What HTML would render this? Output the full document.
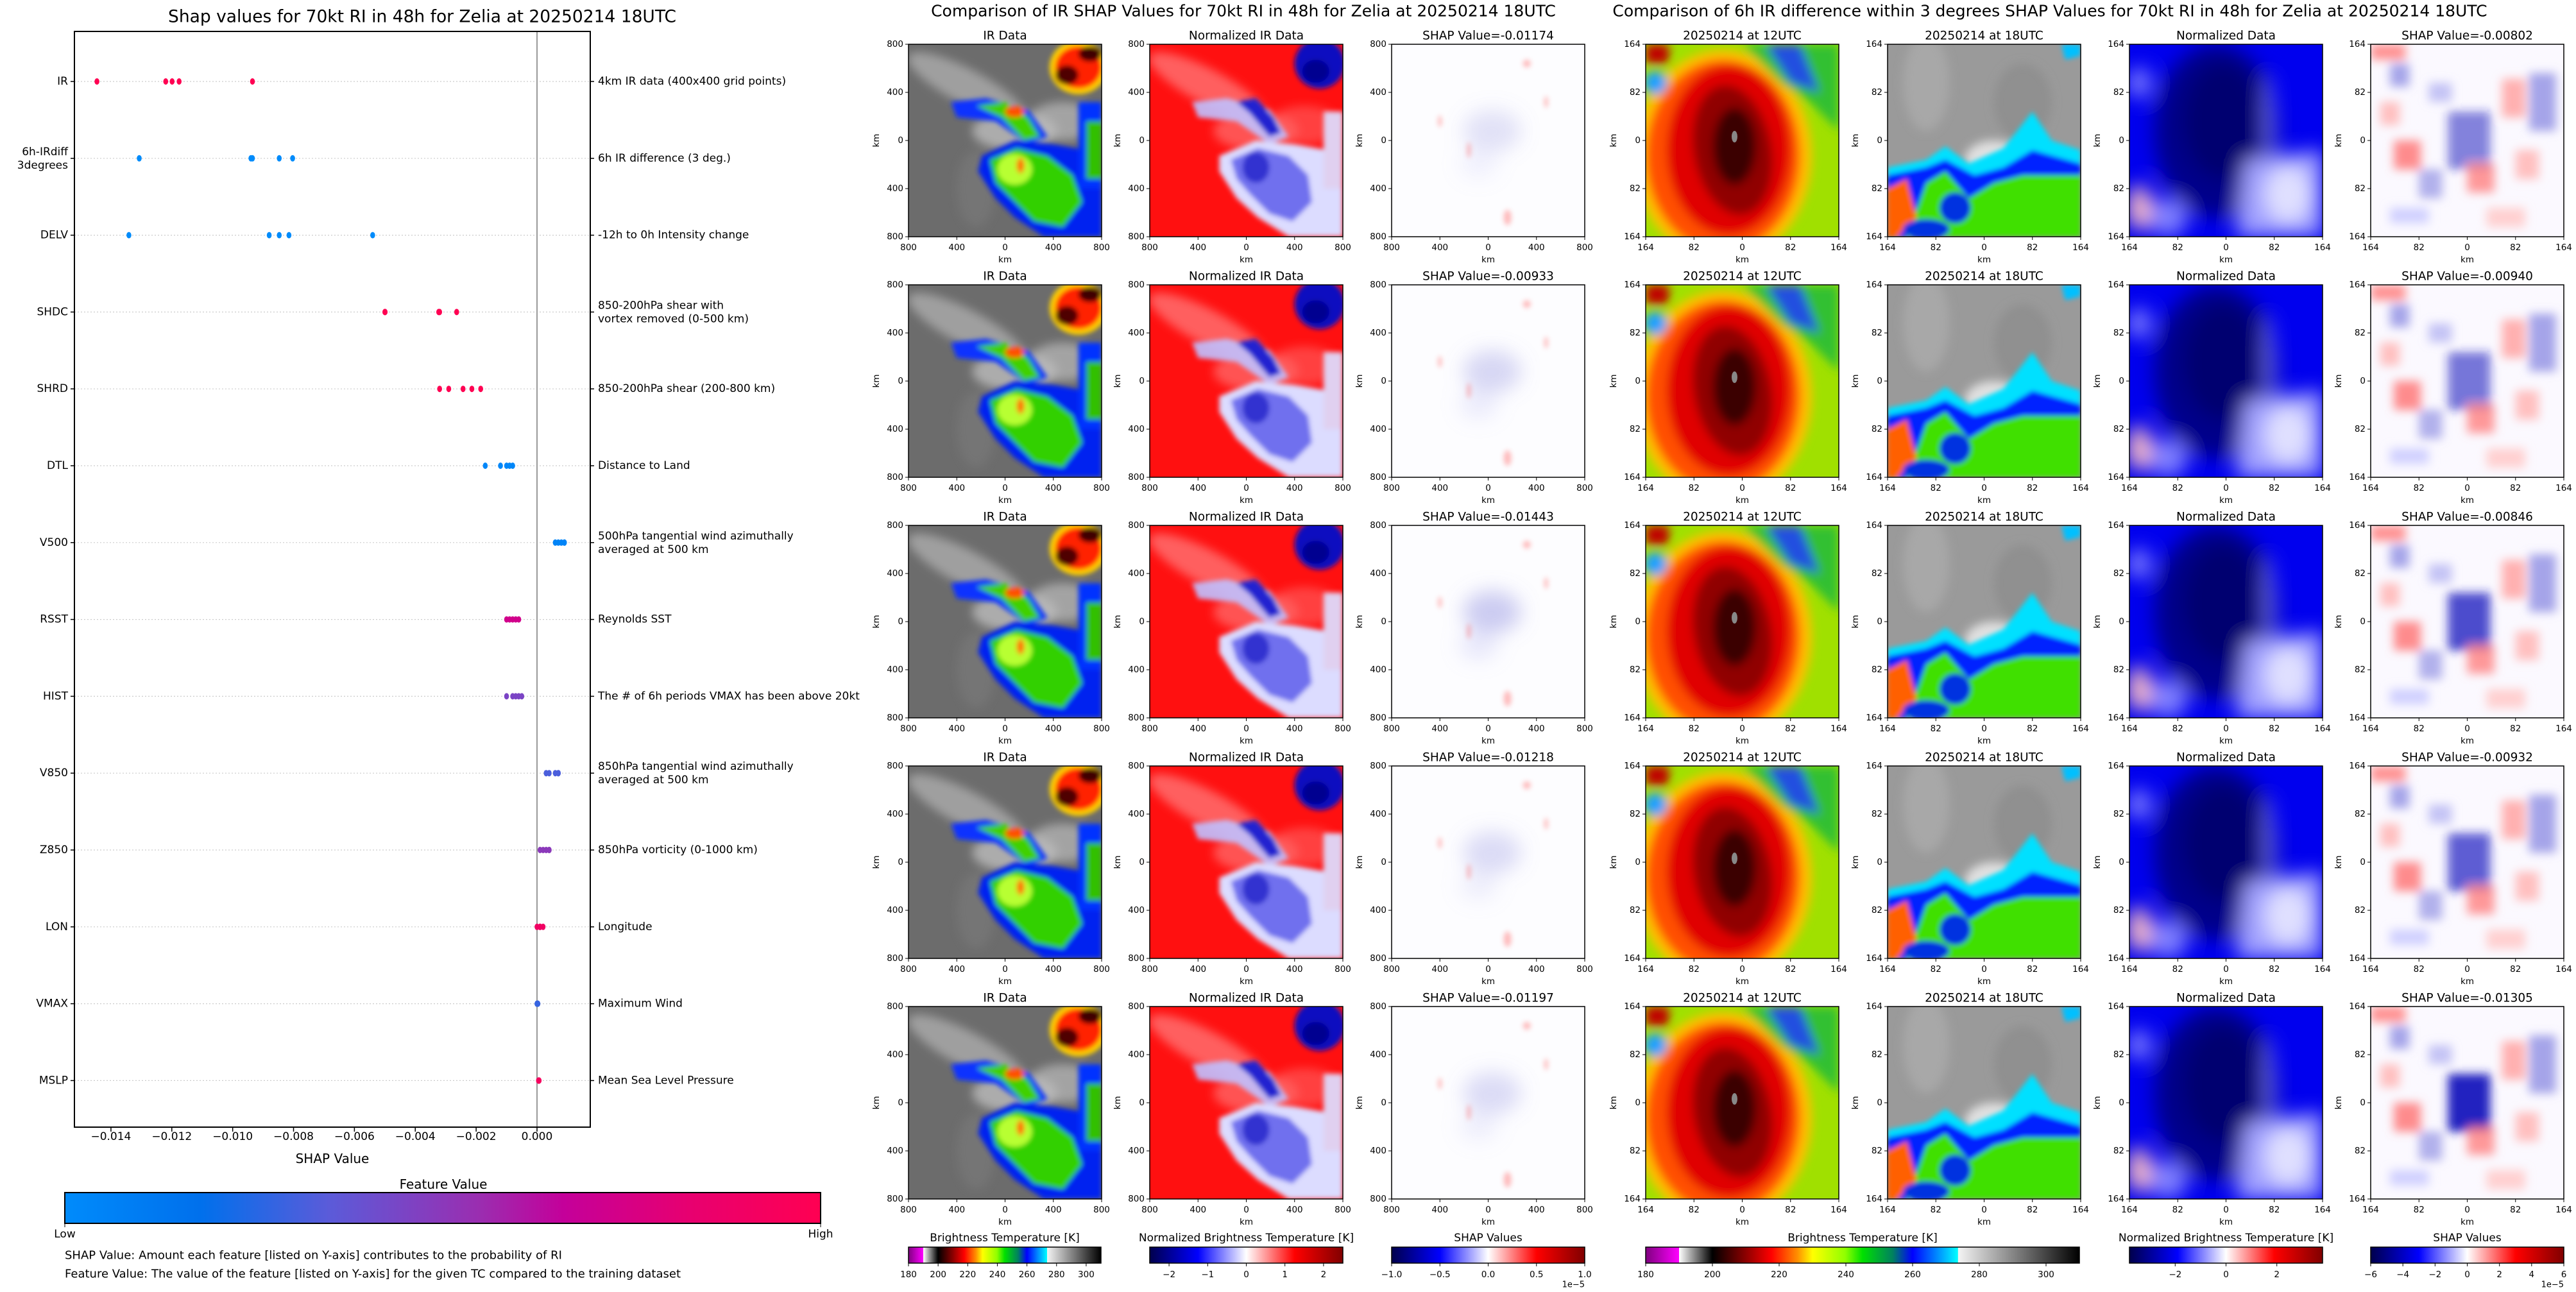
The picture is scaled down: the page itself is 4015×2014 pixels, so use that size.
<!DOCTYPE html>
<html><head><meta charset="utf-8"><style>
html,body{margin:0;padding:0;background:#fff}
svg text{font-family:"DejaVu Sans","Liberation Sans",sans-serif;fill:#000}
</style></head><body>
<svg id="root" xmlns="http://www.w3.org/2000/svg" width="4015" height="2009" viewBox="0 0 4015 2009">
<defs>
<filter id="b1" x="-20%" y="-20%" width="140%" height="140%"><feGaussianBlur stdDeviation="1.2"/></filter>
<filter id="b2" x="-30%" y="-30%" width="160%" height="160%"><feGaussianBlur stdDeviation="2.5"/></filter>
<filter id="b3" x="-30%" y="-30%" width="160%" height="160%"><feGaussianBlur stdDeviation="5"/></filter>
<linearGradient id="gShap" x1="0" x2="1" y1="0" y2="0">
<stop offset="0" stop-color="#008bfb"/><stop offset="0.18" stop-color="#0070ec"/><stop offset="0.35" stop-color="#5b5bd9"/><stop offset="0.55" stop-color="#9b2db0"/><stop offset="0.66" stop-color="#c4009a"/><stop offset="0.83" stop-color="#e8006f"/><stop offset="1" stop-color="#ff0052"/></linearGradient>
<linearGradient id="gBT" x1="0" x2="1" y1="0" y2="0">
<stop offset="0" stop-color="#800080"/><stop offset="0.0769" stop-color="#ff00ff"/><stop offset="0.0770" stop-color="#ffffff"/><stop offset="0.1538" stop-color="#000000"/><stop offset="0.23" stop-color="#8b0000"/><stop offset="0.29" stop-color="#ff0000"/><stop offset="0.35" stop-color="#ff9000"/><stop offset="0.385" stop-color="#ffff00"/><stop offset="0.46" stop-color="#90ff00"/><stop offset="0.50" stop-color="#00e000"/><stop offset="0.57" stop-color="#008060"/><stop offset="0.615" stop-color="#0000ff"/><stop offset="0.72" stop-color="#00ffff"/><stop offset="0.7201" stop-color="#f4f4f4"/><stop offset="1" stop-color="#000000"/></linearGradient>
<linearGradient id="gSeis" x1="0" x2="1" y1="0" y2="0">
<stop offset="0" stop-color="#00004c"/><stop offset="0.25" stop-color="#0000ff"/><stop offset="0.5" stop-color="#ffffff"/><stop offset="0.75" stop-color="#ff0000"/><stop offset="1" stop-color="#800000"/></linearGradient>
</defs>
<g id="left"></g>
<g id="panels"></g>
</svg>
<script>
// ---------------- Left SHAP summary chart data ----------------
const features = ['IR','6h-IRdiff|3degrees','DELV','SHDC','SHRD','DTL','V500','RSST','HIST','V850','Z850','LON','VMAX','MSLP'];
const descriptions = ['4km IR data (400x400 grid points)','6h IR difference (3 deg.)','-12h to 0h Intensity change','850-200hPa shear with|vortex removed (0-500 km)','850-200hPa shear (200-800 km)','Distance to Land','500hPa tangential wind azimuthally|averaged at 500 km','Reynolds SST','The # of 6h periods VMAX has been above 20kt','850hPa tangential wind azimuthally|averaged at 500 km','850hPa vorticity (0-1000 km)','Longitude','Maximum Wind','Mean Sea Level Pressure'];
const shapIR   = [-0.01446,-0.0122,-0.01199,-0.01176,-0.00935];
const shapIRd  = [-0.01307,-0.0094,-0.00935,-0.00847,-0.00803];
const shapDELV = [-0.01341,-0.0088,-0.00847,-0.00815,-0.0054];
const shapSHDC = [-0.0050,-0.00499,-0.00323,-0.0032,-0.00264];
const shapSHRD = [-0.0032,-0.0029,-0.00243,-0.00214,-0.00185];
const shapDTL  = [-0.0017,-0.0012,-0.0010,-0.0009,-0.0008];
const shapV500 = [0.0006,0.0007,0.0008,0.0009,0.0009];
const shapRSST = [-0.0010,-0.0009,-0.0008,-0.0007,-0.0006];
const shapHIST = [-0.0010,-0.0008,-0.0007,-0.0006,-0.0005];
const shapV850 = [0.0003,0.0004,0.0006,0.0007,0.0007];
const shapZ850 = [0.0001,0.0002,0.0003,0.0004,0.0004];
const shapLON  = [0.0,0.0001,0.0001,0.0001,0.0002];
const shapVMAX = [0.0,0.0,0.00002,0.00002,0.00003];
const shapMSLP = [0.00005,0.00005,0.00006,0.00006,0.00007];
const featureValues = [1.0,0.0,0.0,1.0,1.0,0.03,0.05,0.72,0.45,0.32,0.5,0.9,0.28,0.93];
const xTicks = [-0.014,-0.012,-0.010,-0.008,-0.006,-0.004,-0.002,0.0];
const xTickLabels = ['−0.014','−0.012','−0.010','−0.008','−0.006','−0.004','−0.002','0.000'];
// ---------------- Panel data ----------------
const irShapTitles = ['-0.01174','-0.00933','-0.01443','-0.01218','-0.01197'];
const diffShapTitles = ['-0.00802','-0.00940','-0.00846','-0.00932','-0.01305'];

const NS='http://www.w3.org/2000/svg';
function mk(tag, attrs, parent){const e=document.createElementNS(NS,tag);for(const k in attrs)e.setAttribute(k,attrs[k]);if(parent)parent.appendChild(e);return e;}
function txt(parent,x,y,s,size,anchor,extra){const t=mk('text',Object.assign({x:x,y:y,'font-size':size,'text-anchor':anchor||'middle','dominant-baseline':'central'},extra||{}),parent);t.textContent=s;return t;}

const allShap=[shapIR,shapIRd,shapDELV,shapSHDC,shapSHRD,shapDTL,shapV500,shapRSST,shapHIST,shapV850,shapZ850,shapLON,shapVMAX,shapMSLP];
const AX={l:116,r:920,t:49,b:1757};
const xDom=[-0.0152,0.00175];
function xs(v){return AX.l+(v-xDom[0])/(xDom[1]-xDom[0])*(AX.r-AX.l);}
function ys(i){return 127+i*119.8;}
const cstops=[[0,[0,139,251]],[0.18,[0,112,236]],[0.35,[91,91,217]],[0.55,[155,45,176]],[0.66,[196,0,154]],[0.83,[232,0,111]],[1,[255,0,82]]];
function cmap(f){for(let i=1;i<cstops.length;i++){if(f<=cstops[i][0]){const a=cstops[i-1],b=cstops[i];const t=(f-a[0])/(b[0]-a[0]);const c=a[1].map((v,k)=>Math.round(v+(b[1][k]-v)*t));return 'rgb('+c.join(',')+')';}}return 'rgb(255,0,82)';}

(function(){
const L=document.getElementById('left');
const title=txt(L,658,26,'Shap values for 70kt RI in 48h for Zelia at 20250214 18UTC',26.5);


const plot=mk('g',{},L);


features.forEach((f,i)=>{const g=mk('line',{x1:AX.l,x2:AX.r,y1:ys(i),y2:ys(i),stroke:'#cccccc','stroke-width':1.2,'stroke-dasharray':'2,3'},plot);

});
const zl=mk('line',{x1:xs(0),x2:xs(0),y1:AX.t,y2:AX.b,stroke:'#999','stroke-width':2},plot);


const fr=mk('rect',{x:AX.l,y:AX.t,width:AX.r-AX.l,height:AX.b-AX.t,fill:'none',stroke:'#000','stroke-width':2},plot);


allShap.forEach((arr,i)=>{arr.forEach(v=>{const p=mk('ellipse',{cx:xs(v),cy:ys(i),rx:3.8,ry:5,fill:cmap(featureValues[i])},plot);

});});
features.forEach((f,i)=>{mk('line',{x1:AX.l-6,x2:AX.l,y1:ys(i),y2:ys(i),stroke:'#000','stroke-width':1.5},L);
const parts=f.split('|');const t=mk('text',{x:AX.l-10,y:ys(i),'font-size':17,'text-anchor':'end','dominant-baseline':'central'},L);


parts.forEach((p,k)=>{const ts=mk('tspan',{x:AX.l-10,dy:k===0?(parts.length>1?-10:0):21},t);ts.textContent=p;});});
descriptions.forEach((d,i)=>{mk('line',{x1:AX.r,x2:AX.r+6,y1:ys(i),y2:ys(i),stroke:'#000','stroke-width':1.5},L);
const parts=d.split('|');const t=mk('text',{x:AX.r+12,y:ys(i),'font-size':17,'text-anchor':'start','dominant-baseline':'central'},L);


parts.forEach((p,k)=>{const ts=mk('tspan',{x:AX.r+12,dy:k===0?(parts.length>1?-10:0):21},t);ts.textContent=p;});});
xTicks.forEach((v,i)=>{mk('line',{x1:xs(v),x2:xs(v),y1:AX.b,y2:AX.b+7,stroke:'#000','stroke-width':1.5},L);
const t=txt(L,xs(v),1772,xTickLabels[i],17);

});
const xl=txt(L,(AX.l+AX.r)/2,1806,'SHAP Value',20);


const cbt=txt(L,691,1846,'Feature Value',20);


const cb=mk('rect',{x:101,y:1859,width:1178,height:48,fill:'url(#gShap)',stroke:'#000','stroke-width':2},L);


mk('line',{x1:101,x2:101,y1:1907,y2:1913,stroke:'#000'},L);mk('line',{x1:1279,x2:1279,y1:1907,y2:1913,stroke:'#000'},L);
const lo=txt(L,101,1924,'Low',17);


const hi=txt(L,1279,1924,'High',17);


const n1=txt(L,101,1957,'SHAP Value: Amount each feature [listed on Y-axis] contributes to the probability of RI',18,'start');


const n2=txt(L,101,1986,'Feature Value: The value of the feature [listed on Y-axis] for the given TC compared to the training dataset',18,'start');


})();

// ---------------- Panel artwork (approximations) ----------------
function artIR(){return `<rect width="100" height="100" fill="#6c6c6c"/>
<g filter="url(#b2)"><ellipse cx="30" cy="22" rx="34" ry="9" fill="#b5b5b5" opacity=".7" transform="rotate(28 30 22)"/>
<ellipse cx="55" cy="45" rx="22" ry="10" fill="#c8c8c8" opacity=".7"/><ellipse cx="80" cy="40" rx="18" ry="10" fill="#bbbbbb" opacity=".7"/>
<ellipse cx="35" cy="75" rx="10" ry="20" fill="#7c7c7c" opacity=".6"/></g>
<g filter="url(#b1)"><polygon points="22,30 40,28 62,34 72,48 62,52 45,40 25,38" fill="#1030ff"/>
<polygon points="35,32 50,30 62,38 68,48 60,50 48,38" fill="#40d000"/><ellipse cx="55" cy="35" rx="5" ry="3" fill="#ff5000"/>
<polygon points="38,58 55,50 75,52 92,55 100,65 100,100 70,100 55,90 45,80 36,66" fill="#0020f0"/>
<polygon points="42,60 56,54 72,58 85,68 90,82 80,95 65,92 55,82 45,72" fill="#30d000"/>
<ellipse cx="55" cy="65" rx="9" ry="8" fill="#b8ff30"/><ellipse cx="58" cy="63" rx="2" ry="4" fill="#ff7000"/>
<rect x="88" y="30" width="12" height="45" fill="#0030ff"/><rect x="92" y="40" width="8" height="30" fill="#30c000"/>
<ellipse cx="88" cy="12" rx="15" ry="14" fill="#ffd000"/><ellipse cx="88" cy="12" rx="12" ry="11" fill="#ff2000"/>
<ellipse cx="82" cy="16" rx="6" ry="5" fill="#500000"/><ellipse cx="94" cy="5" rx="6" ry="4" fill="#400000"/></g>`;}
function artNorm(){return `<rect width="100" height="100" fill="#ff1010"/>
<g filter="url(#b2)"><ellipse cx="30" cy="22" rx="34" ry="9" fill="#ff8080" opacity=".7" transform="rotate(28 30 22)"/>
<ellipse cx="55" cy="45" rx="22" ry="10" fill="#ff7070" opacity=".7"/><ellipse cx="80" cy="42" rx="18" ry="10" fill="#ff6060" opacity=".6"/></g>
<g filter="url(#b1)"><polygon points="22,30 40,28 62,34 72,48 62,52 45,40 25,38" fill="#c0c0ff" opacity=".9"/>
<polygon points="45,30 55,28 64,38 68,46 62,48 52,36" fill="#2020d0"/>
<polygon points="36,58 55,50 75,52 92,55 100,65 100,100 72,100 56,90 45,80 36,66" fill="#dcdcff"/>
<polygon points="42,60 56,54 72,58 82,68 84,82 74,92 62,88 52,78 45,70" fill="#7070ee"/>
<ellipse cx="55" cy="64" rx="7" ry="8" fill="#3030d0"/>
<ellipse cx="88" cy="10" rx="13" ry="13" fill="#1010c0"/><ellipse cx="86" cy="14" rx="7" ry="6" fill="#000090"/>
<rect x="90" y="35" width="10" height="40" fill="#e0d0f0"/></g>`;}
function artShap1(k){const s=[0.25,0.35,0.45,0.3,0.3][k];return `<rect width="100" height="100" fill="#fdfdff"/>
<g filter="url(#b3)"><ellipse cx="52" cy="45" rx="15" ry="11" fill="#9090e0" opacity="${s}"/><ellipse cx="45" cy="62" rx="10" ry="8" fill="#b0b0f0" opacity="${s*0.6}"/></g>
<g filter="url(#b1)" fill="#ff4040" opacity=".35"><ellipse cx="25" cy="40" rx="1" ry="3"/><ellipse cx="40" cy="55" rx="1" ry="4"/><ellipse cx="60" cy="90" rx="2" ry="4"/><ellipse cx="70" cy="10" rx="2" ry="2"/><ellipse cx="80" cy="30" rx="1" ry="3"/></g>`;}
function art12(){return `<rect width="100" height="100" fill="#a0e000"/>
<g filter="url(#b2)"><ellipse cx="40" cy="58" rx="46" ry="55" fill="#ffc000"/><ellipse cx="40" cy="58" rx="40" ry="50" fill="#ff5000"/>
<ellipse cx="43" cy="55" rx="32" ry="44" fill="#e00000"/><ellipse cx="45" cy="55" rx="20" ry="34" fill="#900000" transform="rotate(-10 45 55)"/>
<ellipse cx="46" cy="53" rx="11" ry="20" fill="#3a0000"/>
<polygon points="50,0 100,0 100,45 85,30 70,20" fill="#30c030"/><polygon points="62,0 80,0 90,25 75,20" fill="#2050e0"/>
<ellipse cx="5" cy="20" rx="6" ry="6" fill="#20a0ff"/><rect x="0" y="0" width="12" height="10" fill="#c00000"/></g>
<ellipse cx="46" cy="48" rx="1.5" ry="3" fill="#888"/>`;}
function art18(){return `<rect width="100" height="100" fill="#9a9a9a"/>
<g filter="url(#b2)"><ellipse cx="20" cy="20" rx="12" ry="25" fill="#b0b0b0" opacity=".6"/><ellipse cx="70" cy="30" rx="15" ry="20" fill="#888" opacity=".6"/><ellipse cx="55" cy="60" rx="15" ry="10" fill="#e0e0e0"/></g>
<g filter="url(#b1)"><polygon points="0,64 20,60 30,53 42,62 60,54 75,35 85,50 100,55 100,100 0,100" fill="#00e0ff"/>
<polygon points="0,68 20,64 30,60 45,68 60,64 75,55 100,62 100,100 0,100" fill="#0020ff"/>
<polygon points="10,100 20,72 30,66 42,80 55,72 70,68 100,68 100,100" fill="#40e000"/>
<polygon points="0,75 10,70 15,90 5,100 0,100" fill="#ff6000"/><ellipse cx="35" cy="85" rx="8" ry="8" fill="#0030e0"/><ellipse cx="20" cy="96" rx="12" ry="5" fill="#0030e0"/>
<polygon points="90,0 100,0 100,6 92,8" fill="#00c0ff"/></g>`;}
function artND(){return `<rect width="100" height="100" fill="#0000ee"/>
<g filter="url(#b3)"><ellipse cx="45" cy="45" rx="32" ry="45" fill="#00008a"/><ellipse cx="48" cy="40" rx="20" ry="30" fill="#000070"/>
<ellipse cx="5" cy="20" rx="6" ry="8" fill="#8080ff"/><polygon points="60,60 100,55 100,100 55,100" fill="#a0a0ff"/>
<ellipse cx="82" cy="78" rx="12" ry="15" fill="#e0e0ff"/><ellipse cx="5" cy="85" rx="6" ry="12" fill="#ffc0c0"/><ellipse cx="20" cy="90" rx="10" ry="10" fill="#8080ff"/>
<ellipse cx="72" cy="40" rx="2" ry="25" fill="#7070ff"/></g>`;}
function artShap2(k){const c=[0.55,0.6,0.8,0.7,1.0][k];return `<rect width="100" height="100" fill="#fbf9ff"/>
<g filter="url(#b2)"><rect x="0" y="0" width="18" height="8" fill="#ff9090"/><rect x="10" y="10" width="10" height="12" fill="#8080e0" opacity=".7"/>
<rect x="68" y="18" width="12" height="20" fill="#ffb0b0"/><rect x="82" y="15" width="14" height="30" fill="#8080e0" opacity=".7"/>
<rect x="40" y="35" width="22" height="30" fill="#2020c0" opacity="${c}"/><rect x="12" y="50" width="14" height="15" fill="#ff7070" opacity=".8"/>
<rect x="50" y="62" width="14" height="15" fill="#ff8080" opacity=".8"/><rect x="25" y="65" width="12" height="15" fill="#8080e0" opacity=".6"/>
<rect x="5" y="30" width="10" height="12" fill="#ffc0c0"/><rect x="30" y="20" width="12" height="10" fill="#a0a0ee" opacity=".6"/>
<rect x="75" y="55" width="12" height="15" fill="#ffc0c0"/><rect x="60" y="85" width="20" height="10" fill="#ffd0d0"/><rect x="10" y="85" width="20" height="8" fill="#d0d0ff"/></g>`;}

// ---------------- Panels layout ----------------
const P=document.getElementById('panels');
const rowsY=[69,444,819,1194,1569];
const g1X=[1416,1792,2169], g2X=[2565,2942,3319,3695];
const W=301,H=300;
function panel(x0,y0,title,art,ticks,name){
  const g=mk('g',{},P);
  
  
  const s=mk('svg',{x:x0,y:y0,width:W,height:H,viewBox:'0 0 100 100',preserveAspectRatio:'none'},g);
  s.innerHTML=art;
  mk('rect',{x:x0,y:y0,width:W,height:H,fill:'none',stroke:'#000','stroke-width':1.5},g);
  const tt=txt(g,x0+W/2,y0-13,title,18.5);
  
  
  for(let i=0;i<5;i++){
    const xx=x0+i*W/4, yy=y0+i*H/4;
    mk('line',{x1:xx,x2:xx,y1:y0+H,y2:y0+H+5,stroke:'#000'},g);
    txt(g,xx,y0+H+17,ticks[i],13.5);
    mk('line',{x1:x0-5,x2:x0,y1:yy,y2:yy,stroke:'#000'},g);
    txt(g,x0-8,yy,ticks[i],13.5,'end');
  }
  txt(g,x0+W/2,y0+H+36,'km',13.5);
  txt(g,x0-50,y0+H/2,'km',13.5,'middle',{transform:`rotate(-90 ${x0-50} ${y0+H/2})`});
}
const t1=['800','400','0','400','800'], t2=['164','82','0','82','164'];
rowsY.forEach((y,r)=>{
  panel(g1X[0],y,'IR Data',artIR(),t1,'ir-data-panel');
  panel(g1X[1],y,'Normalized IR Data',artNorm(),t1,'normalized-ir-panel');
  panel(g1X[2],y,'SHAP Value='+irShapTitles[r],artShap1(r),t1,'ir-shap-panel');
  panel(g2X[0],y,'20250214 at 12UTC',art12(),t2,'ir-12utc-panel');
  panel(g2X[1],y,'20250214 at 18UTC',art18(),t2,'ir-18utc-panel');
  panel(g2X[2],y,'Normalized Data',artND(),t2,'normalized-diff-panel');
  panel(g2X[3],y,'SHAP Value='+diffShapTitles[r],artShap2(r),t2,'diff-shap-panel');
});
const st1=txt(P,1938,17,'Comparison of IR SHAP Values for 70kt RI in 48h for Zelia at 20250214 18UTC',25);


const st2=txt(P,3195,17,'Comparison of 6h IR difference within 3 degrees SHAP Values for 70kt RI in 48h for Zelia at 20250214 18UTC',25);



function colorbar(x0,x1,title,grad,vmin,vmax,ticks,labels,offset,name){
  const g=mk('g',{},P);
  
  
  txt(g,(x0+x1)/2,1930,title,17);
  mk('rect',{x:x0,y:1944,width:x1-x0,height:25,fill:grad,stroke:'#000','stroke-width':1.5},g);
  ticks.forEach((v,i)=>{const xx=x0+(v-vmin)/(vmax-vmin)*(x1-x0);
    mk('line',{x1:xx,x2:xx,y1:1969,y2:1974,stroke:'#000'},g);txt(g,xx,1987,labels[i],13.5);});
  if(offset) txt(g,x1,2003,offset,13,'end');
}
const btT=[180,200,220,240,260,280,300];
colorbar(1416,1716,'Brightness Temperature [K]','url(#gBT)',180,310,btT,btT.map(String),null,'bt-colorbar');
colorbar(1792,2093,'Normalized Brightness Temperature [K]','url(#gSeis)',-2.5,2.5,[-2,-1,0,1,2],['−2','−1','0','1','2'],null,'norm-colorbar');
colorbar(2169,2470,'SHAP Values','url(#gSeis)',-1,1,[-1,-0.5,0,0.5,1],['−1.0','−0.5','0.0','0.5','1.0'],'1e−5','shap-colorbar');
colorbar(2565,3241,'Brightness Temperature [K]','url(#gBT)',180,310,btT,btT.map(String),null,'diff-bt-colorbar');
colorbar(3319,3620,'Normalized Brightness Temperature [K]','url(#gSeis)',-3.8,3.8,[-2,0,2],['−2','0','2'],null,'diff-norm-colorbar');
colorbar(3695,3996,'SHAP Values','url(#gSeis)',-6,6,[-6,-4,-2,0,2,4,6],['−6','−4','−2','0','2','4','6'],'1e−5','diff-shap-colorbar');
</script>
</body></html>
